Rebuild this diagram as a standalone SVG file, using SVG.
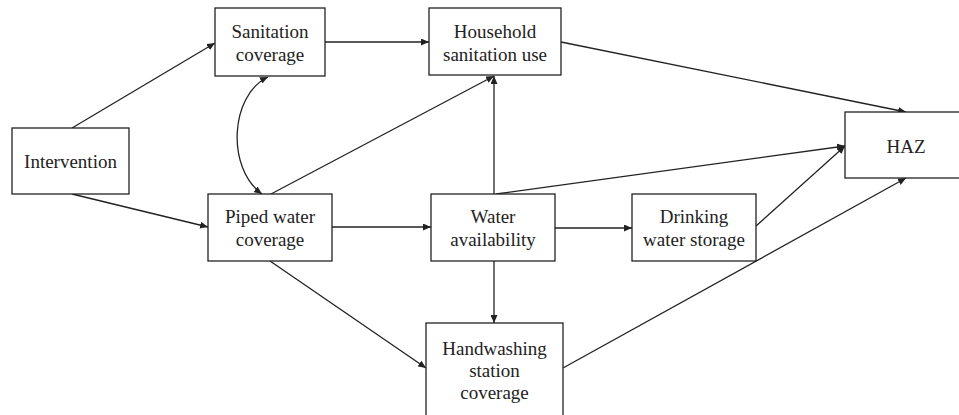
<svg xmlns="http://www.w3.org/2000/svg" width="959" height="415" viewBox="0 0 959 415">
<style>
.box{fill:#fff;stroke:#222;stroke-width:1.3}
.lbl{font-family:"Liberation Serif","Times New Roman",serif;font-size:19px;fill:#222;text-anchor:middle}
.edge{fill:none;stroke:#222;stroke-width:1.3}
</style>
<defs>
<marker id="ah" viewBox="0 0 10 10" refX="10" refY="5" markerWidth="8" markerHeight="7" markerUnits="userSpaceOnUse" orient="auto-start-reverse" preserveAspectRatio="none">
<path d="M0,0 L10,5 L0,10 Z" fill="#222"/>
</marker>
</defs>
<rect width="959" height="415" fill="#fff"/>
<g id="connectors">
<line class="edge" x1="72" y1="128" x2="215" y2="43" marker-end="url(#ah)"/>
<line class="edge" x1="72" y1="194" x2="208" y2="227" marker-end="url(#ah)"/>
<line class="edge" x1="325" y1="42" x2="429" y2="42" marker-end="url(#ah)"/>
<path class="edge" d="M268,77 C230,95 226,168 262,194" marker-start="url(#ah)" marker-end="url(#ah)"/>
<line class="edge" x1="271" y1="194" x2="494" y2="76" marker-end="url(#ah)"/>
<line class="edge" x1="561" y1="42" x2="906" y2="112" marker-end="url(#ah)"/>
<line class="edge" x1="494" y1="194" x2="494" y2="76" marker-end="url(#ah)"/>
<line class="edge" x1="496" y1="194" x2="845" y2="146" marker-end="url(#ah)"/>
<line class="edge" x1="332" y1="227" x2="431" y2="227" marker-end="url(#ah)"/>
<line class="edge" x1="555" y1="228" x2="632" y2="228" marker-end="url(#ah)"/>
<line class="edge" x1="756" y1="226" x2="845" y2="146" marker-end="url(#ah)"/>
<line class="edge" x1="494" y1="261" x2="494" y2="323" marker-end="url(#ah)"/>
<line class="edge" x1="270" y1="261" x2="426" y2="368" marker-end="url(#ah)"/>
<line class="edge" x1="563" y1="368" x2="906" y2="178" marker-end="url(#ah)"/>
</g>
<g id="intervention"><rect class="box" x="12" y="128" width="117" height="66"/><text class="lbl" x="70.5" y="168">Intervention</text></g>
<g id="sanitation-coverage"><rect class="box" x="215" y="8" width="110" height="68"/><text class="lbl" x="270" y="38">Sanitation</text><text class="lbl" x="270" y="61">coverage</text></g>
<g id="household-sanitation-use"><rect class="box" x="429" y="8" width="132" height="67"/><text class="lbl" x="495" y="38">Household</text><text class="lbl" x="495" y="61">sanitation use</text></g>
<g id="piped-water-coverage"><rect class="box" x="208" y="194" width="124" height="67"/><text class="lbl" x="270" y="223">Piped water</text><text class="lbl" x="270" y="246">coverage</text></g>
<g id="water-availability"><rect class="box" x="431" y="194" width="124" height="67"/><text class="lbl" x="493" y="223">Water</text><text class="lbl" x="493" y="246">availability</text></g>
<g id="drinking-water-storage"><rect class="box" x="632" y="194" width="124" height="67"/><text class="lbl" x="694" y="223">Drinking</text><text class="lbl" x="694" y="246">water storage</text></g>
<g id="handwashing-station-coverage"><rect class="box" x="426" y="323" width="137" height="100"/><text class="lbl" x="494.5" y="355">Handwashing</text><text class="lbl" x="494.5" y="377">station</text><text class="lbl" x="494.5" y="399">coverage</text></g>
<g id="haz"><rect class="box" x="845" y="112" width="130" height="66"/><text class="lbl" x="906" y="153">HAZ</text></g>
</svg>
